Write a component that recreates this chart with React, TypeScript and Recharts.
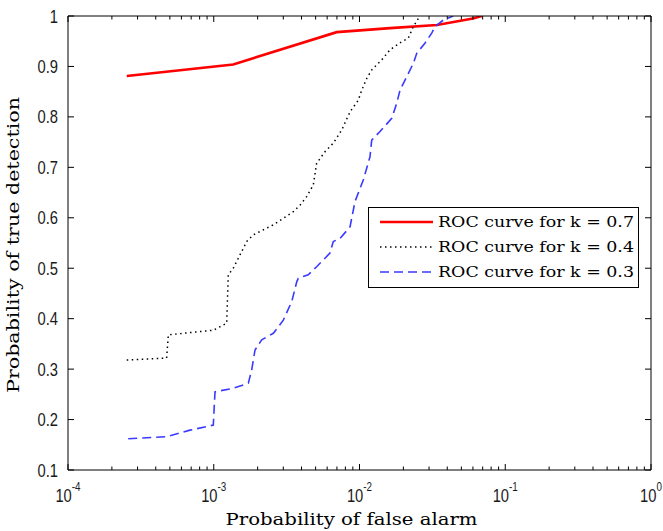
import React from 'react';
import { LineChart, Line, XAxis, YAxis, Legend } from 'recharts';

// ---- axis ticks / labels ----
const decades = [1e-4, 1e-3, 1e-2, 1e-1, 1];
const decadeExponents = ['-4', '-3', '-2', '-1', '0'];
const minorMultipliers = [2, 3, 4, 5, 6, 7, 8, 9];
const yTicks = [0.1, 0.2, 0.3, 0.4, 0.5, 0.6, 0.7, 0.8, 0.9, 1];
const yTickLabels = ['0.1', '0.2', '0.3', '0.4', '0.5', '0.6', '0.7', '0.8', '0.9', '1'];

const xTitle = 'Probability of false alarm';
const yTitle = 'Probability of true detection';
const seriesNames = ['ROC curve for k = 0.7', 'ROC curve for k = 0.4', 'ROC curve for k = 0.3'];

// ---- series values (false-alarm probability, detection probability) ----
const faK07 = [2.53e-4, 1.36e-3, 6.98e-3, 1.62e-2, 3.4e-2, 6.0e-2, 6.9e-2];
const pdK07 = [0.881, 0.904, 0.968, 0.976, 0.982, 0.995, 1.0];

const faK04 = [
  2.53e-4, 4.75e-4, 4.88e-4, 9.93e-4, 1.227e-3, 1.258e-3, 1.362e-3, 1.683e-3, 1.868e-3,
  2.563e-3, 3.515e-3, 3.907e-3, 4.34e-3, 4.82e-3, 5.08e-3, 5.8e-3, 6.61e-3, 7.55e-3,
  8.61e-3, 9.81e-3, 1.036e-2, 1.12e-2, 1.213e-2, 1.42e-2, 1.62e-2, 1.948e-2, 2.16e-2,
  2.34e-2, 2.6e-2,
];
const pdK04 = [
  0.318, 0.322, 0.368, 0.377, 0.391, 0.487, 0.5, 0.553, 0.566,
  0.586, 0.612, 0.625, 0.642, 0.665, 0.708, 0.731, 0.748, 0.774,
  0.81, 0.833, 0.853, 0.876, 0.893, 0.913, 0.933, 0.949, 0.956,
  0.979, 1.0,
];

const faK03 = [
  2.59e-4, 4.75e-4, 6.87e-4, 9.93e-4, 1.02e-3, 1.362e-3, 1.727e-3, 1.82e-3, 1.92e-3,
  2.133e-3, 2.563e-3, 3.0e-3, 3.43e-3, 3.71e-3, 3.8e-3, 4.45e-3, 5.08e-3, 6.27e-3,
  6.61e-3, 7.35e-3, 8.61e-3, 9.31e-3, 1.062e-2, 1.18e-2, 1.213e-2, 1.383e-2, 1.663e-2,
  1.8e-2, 1.897e-2, 2.11e-2, 2.34e-2, 2.47e-2, 2.81e-2, 3.13e-2, 3.3e-2, 3.76e-2, 4.4e-2,
];
const pdK03 = [
  0.162, 0.166, 0.179, 0.189, 0.255, 0.262, 0.272, 0.298, 0.338,
  0.358, 0.371, 0.397, 0.434, 0.473, 0.48, 0.487, 0.503, 0.53,
  0.553, 0.559, 0.582, 0.632, 0.675, 0.721, 0.754, 0.771, 0.797,
  0.827, 0.853, 0.88, 0.906, 0.926, 0.946, 0.966, 0.979, 0.992, 1.0,
];

const seriesStyles = [
  { color: '#ff0000', width: 2.6, dash: undefined as string | undefined },
  { color: '#000000', width: 1.5, dash: '1.5 3.5' },
  { color: '#3a3aff', width: 1.6, dash: '9 5' },
];

const toRows = (fa: number[], pd: number[]) => fa.map((f, i) => ({ fa: f, pd: pd[i] }));
const seriesData = [toRows(faK07, pdK07), toRows(faK04, pdK04), toRows(faK03, pdK03)];

const xTicks: number[] = decades.flatMap((d, i) =>
  i < decades.length - 1 ? [d, ...minorMultipliers.map((m) => d * m)] : [d]
);

const decadeIndex = (v: number) => decades.findIndex((d) => Math.abs(d - v) / d < 1e-6);

const tickFont = "'Liberation Sans', Arial, sans-serif";
const titleFont = "'DejaVu Serif', 'Liberation Serif', serif";

const BottomTick = (props: any) => {
  const { x, y, payload } = props;
  const idx = decadeIndex(payload.value);
  const major = idx >= 0;
  return (
    <g>
      <line x1={x} y1={y} x2={x} y2={y - (major ? 6 : 3.5)} stroke="#000" strokeWidth={1} />
      {major && (
        <text
          transform={`translate(${x},${y + 31.5}) scale(0.82,1)`}
          textAnchor="middle"
          fontFamily={tickFont}
          fontSize={18}
          fill="#1a1a1a"
        >
          <tspan>10</tspan>
          <tspan dy={-11} fontSize={12}>{decadeExponents[idx]}</tspan>
        </text>
      )}
    </g>
  );
};

const TopTick = (props: any) => {
  const { x, y, payload } = props;
  const major = decadeIndex(payload.value) >= 0;
  return <line x1={x} y1={y} x2={x} y2={y + (major ? 6 : 3.5)} stroke="#000" strokeWidth={1} />;
};

const yIndex = (v: number) => yTicks.findIndex((t) => Math.abs(t - v) < 1e-9);

const LeftTick = (props: any) => {
  const { x, y, payload } = props;
  const i = yIndex(payload.value);
  return (
    <g>
      <line x1={x} y1={y} x2={x + 6} y2={y} stroke="#000" strokeWidth={1} />
      <text
        transform={`translate(${x - 10},${y + 6.5}) scale(0.82,1)`}
        textAnchor="end"
        fontFamily={tickFont}
        fontSize={18}
        fill="#1a1a1a"
      >
        {yTickLabels[i]}
      </text>
    </g>
  );
};

const RightTick = (props: any) => {
  const { x, y } = props;
  return <line x1={x} y1={y} x2={x - 6} y2={y} stroke="#000" strokeWidth={1} />;
};

const XTitle = (props: any) => {
  const vb = props.viewBox;
  return (
    <text
      x={vb.x + vb.width / 2 - 8}
      y={vb.y + 55}
      textAnchor="middle"
      fontFamily={titleFont}
      fontSize={16}
      fill="#000"
      textLength={252}
      lengthAdjust="spacingAndGlyphs"
    >
      {xTitle}
    </text>
  );
};

const YTitle = (props: any) => {
  const vb = props.viewBox;
  const cx = vb.x + 19;
  const cy = vb.y + vb.height / 2 + 2;
  return (
    <text
      transform={`translate(${cx},${cy}) rotate(-90)`}
      textAnchor="middle"
      fontFamily={titleFont}
      fontSize={16}
      fill="#000"
      textLength={296}
      lengthAdjust="spacingAndGlyphs"
    >
      {yTitle}
    </text>
  );
};

const LegendBox = () => (
  <svg width={272} height={82} style={{ display: 'block' }}>
    <rect x={0.5} y={0.5} width={270} height={80} fill="#fff" stroke="#000" strokeWidth={1} />
    {seriesNames.map((name, i) => {
      const cy = 15 + i * 25;
      const s = seriesStyles[i];
      return (
        <g key={name}>
          <line
            x1={12}
            y1={cy}
            x2={65}
            y2={cy}
            stroke={s.color}
            strokeWidth={s.width}
            strokeDasharray={s.dash}
          />
          <text
            x={70}
            y={cy + 5}
            fontFamily={titleFont}
            fontSize={15}
            fill="#000"
            textLength={196}
            lengthAdjust="spacingAndGlyphs"
          >
            {name}
          </text>
        </g>
      );
    })}
  </svg>
);

export default function App() {
  return (
    <div style={{ position: 'absolute', left: 0, top: 0, width: 663, height: 531, background: '#fff' }}>
      <LineChart width={663} height={531} margin={{ top: 15, right: 11, bottom: 0, left: 0 }}>
        <XAxis
          xAxisId="b"
          dataKey="fa"
          type="number"
          scale="log"
          domain={[1e-4, 1]}
          allowDataOverflow
          ticks={xTicks}
          interval={0}
          height={61}
          tickLine={false}
          tickSize={0}
          tickMargin={0}
          axisLine={{ stroke: '#000', strokeWidth: 1 }}
          tick={<BottomTick />}
          label={(p: any) => <XTitle {...p} />}
        />
        <XAxis
          xAxisId="t"
          orientation="top"
          dataKey="fa"
          type="number"
          scale="log"
          domain={[1e-4, 1]}
          allowDataOverflow
          ticks={xTicks}
          interval={0}
          height={1}
          tickLine={false}
          tickSize={0}
          tickMargin={0}
          axisLine={{ stroke: '#000', strokeWidth: 1 }}
          tick={<TopTick />}
        />
        <YAxis
          yAxisId="l"
          type="number"
          domain={[0.1, 1]}
          allowDataOverflow
          ticks={yTicks}
          interval={0}
          width={68}
          tickLine={false}
          tickSize={0}
          tickMargin={0}
          axisLine={{ stroke: '#000', strokeWidth: 1 }}
          tick={<LeftTick />}
          label={(p: any) => <YTitle {...p} />}
        />
        <YAxis
          yAxisId="r"
          orientation="right"
          type="number"
          domain={[0.1, 1]}
          allowDataOverflow
          ticks={yTicks}
          interval={0}
          width={1}
          tickLine={false}
          tickSize={0}
          tickMargin={0}
          axisLine={{ stroke: '#000', strokeWidth: 1 }}
          tick={<RightTick />}
        />
        {seriesData.map((d, i) => (
          <Line
            key={seriesNames[i]}
            name={seriesNames[i]}
            data={d}
            dataKey="pd"
            xAxisId="b"
            yAxisId="l"
            type="linear"
            stroke={seriesStyles[i].color}
            strokeWidth={seriesStyles[i].width}
            strokeDasharray={seriesStyles[i].dash}
            dot={false}
            activeDot={false}
            isAnimationActive={false}
          />
        ))}
        <Legend
          layout="horizontal"
          align="center"
          verticalAlign="middle"
          content={() => <LegendBox />}
          wrapperStyle={{ position: 'absolute', left: 368, top: 207, width: 272, height: 82, margin: 0, padding: 0 }}
        />
      </LineChart>
    </div>
  );
}
